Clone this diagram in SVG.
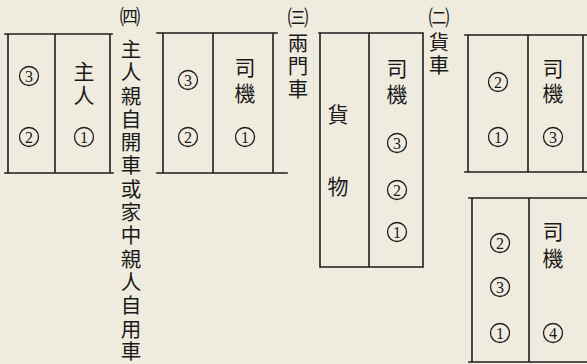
<svg xmlns="http://www.w3.org/2000/svg" width="587" height="364" viewBox="0 0 587 364">
<defs>
<circle id="c" r="9.5" fill="none" stroke="#1e1e1e" stroke-width="1.3"/>
</defs>
<style>
.ln{stroke:#1e1e1e;stroke-width:1.6;fill:none;stroke-linecap:square}
.t{font-family:"Noto Sans CJK TC","Noto Sans CJK SC",sans-serif;font-size:21px;fill:#1a1a1a;text-anchor:middle;dominant-baseline:central}
.lb{font-family:"Noto Sans CJK TC","Noto Sans CJK SC",sans-serif;font-size:20.5px;fill:#1a1a1a;text-anchor:middle;dominant-baseline:central}
.n{font-family:"Liberation Serif",serif;font-size:16px;fill:#1a1a1a;text-anchor:middle;dominant-baseline:central}
.p{font-family:"Noto Sans CJK TC","Noto Sans CJK SC",sans-serif;font-size:21px;fill:#1a1a1a;text-anchor:middle;dominant-baseline:central}
</style>
<rect width="587" height="364" fill="#efebdf"/>

<g id="box4">
<path class="ln" d="M5 34H112M8 34V173M55 34V173M110 34V173M5 173H113"/>
<use href="#c" x="29" y="76"/><text class="n" x="29" y="76.5">3</text>
<use href="#c" x="29" y="137"/><text class="n" x="29" y="137.5">2</text>
<text class="t" x="84" y="70">主</text>
<text class="t" x="84" y="94">人</text>
<use href="#c" x="84" y="137"/><text class="n" x="84" y="137.5">1</text>
</g>
<g id="label4">
<text class="p" x="130" y="15">㈣</text>
<text class="lb"><tspan x="131" y="48">主</tspan><tspan x="131" y="71">人</tspan><tspan x="131" y="95">親</tspan><tspan x="131" y="118">自</tspan><tspan x="131" y="141">開</tspan><tspan x="131" y="164">車</tspan><tspan x="131" y="188">或</tspan><tspan x="131" y="211">家</tspan><tspan x="131" y="234">中</tspan><tspan x="131" y="258">親</tspan><tspan x="131" y="281">人</tspan><tspan x="131" y="304">自</tspan><tspan x="131" y="328">用</tspan><tspan x="131" y="350">車</tspan></text>
</g>

<g id="box3">
<path class="ln" d="M157 33H277M163 33V173M213 33V173M273 33V173M157 173H287"/>
<use href="#c" x="188" y="80"/><text class="n" x="188" y="80.5">3</text>
<use href="#c" x="188" y="137"/><text class="n" x="188" y="137.5">2</text>
<text class="t" x="245" y="66">司</text>
<text class="t" x="245" y="92">機</text>
<use href="#c" x="245" y="137"/><text class="n" x="245" y="137.5">1</text>
</g>
<g id="label3">
<text class="p" x="298" y="16">㈢</text>
<text class="lb"><tspan x="298" y="42">兩</tspan><tspan x="298" y="65">門</tspan><tspan x="298" y="88">車</tspan></text>
</g>

<g id="box2">
<path class="ln" d="M319 33H423M320 33V267M369 33V267M423 33V267M320 267H423"/>
<text class="t" x="338" y="113">貨</text>
<text class="t" x="338" y="185">物</text>
<text class="t" x="397" y="67">司</text>
<text class="t" x="397" y="93">機</text>
<use href="#c" x="397" y="143"/><text class="n" x="397" y="143.5">3</text>
<use href="#c" x="397" y="190"/><text class="n" x="397" y="190.5">2</text>
<use href="#c" x="397" y="232"/><text class="n" x="397" y="232.5">1</text>
</g>
<g id="label2">
<text class="p" x="439" y="16">㈡</text>
<text class="lb"><tspan x="439" y="41">貨</tspan><tspan x="439" y="64">車</tspan></text>
</g>

<g id="box1a">
<path class="ln" d="M465 35H587M468 35V172M528 35V172M583 35V172M465 172H587"/>
<use href="#c" x="498" y="82"/><text class="n" x="498" y="82.5">2</text>
<use href="#c" x="498" y="137"/><text class="n" x="498" y="137.5">1</text>
<text class="t" x="553" y="67">司</text>
<text class="t" x="553" y="92">機</text>
<use href="#c" x="553" y="137"/><text class="n" x="553" y="137.5">3</text>
</g>

<g id="box1b">
<path class="ln" d="M469 198H587M472 198V362M529 198V362M469 362H587"/>
<use href="#c" x="500" y="243"/><text class="n" x="500" y="243.5">2</text>
<use href="#c" x="500" y="287"/><text class="n" x="500" y="287.5">3</text>
<use href="#c" x="500" y="333"/><text class="n" x="500" y="333.5">1</text>
<text class="t" x="553" y="230">司</text>
<text class="t" x="553" y="257">機</text>
<use href="#c" x="553" y="333"/><text class="n" x="553" y="333.5">4</text>
</g>
<g id="connectors"></g>
</svg>
